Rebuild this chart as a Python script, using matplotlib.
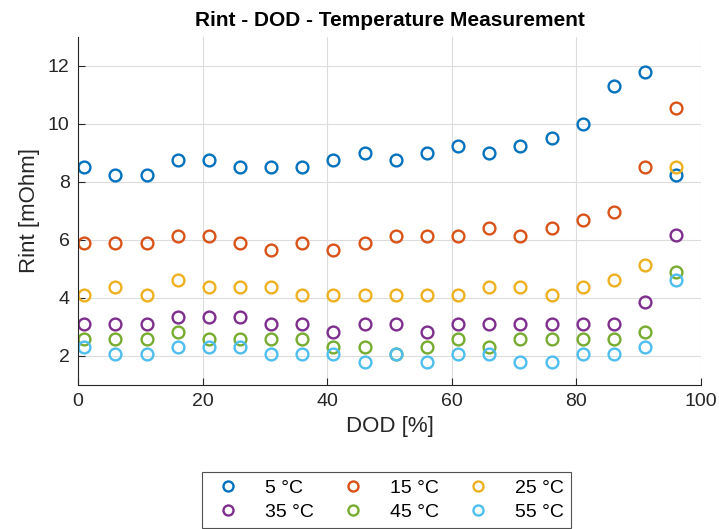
import numpy as np
import matplotlib
matplotlib.use("Agg")
from matplotlib import pyplot as plt

plt.rcParams['font.family'] = ['Liberation Sans', 'DejaVu Sans']

# depth of discharge steps and internal resistance per temperature
dod = [1, 6, 11, 16, 21, 26, 31, 36, 41, 46, 51, 56, 61, 66, 71, 76, 81, 86, 91, 96]
rint_5 = [8.5, 8.25, 8.25, 8.75, 8.75, 8.5, 8.5, 8.5, 8.75, 9.0, 8.75, 9.0, 9.25, 9.0, 9.25, 9.5, 10.0, 11.3, 11.8, 8.25]
rint_15 = [5.9, 5.9, 5.9, 6.15, 6.15, 5.9, 5.65, 5.9, 5.65, 5.9, 6.15, 6.15, 6.15, 6.4, 6.15, 6.4, 6.7, 6.95, 8.5, 10.55]
rint_25 = [4.1, 4.37, 4.1, 4.62, 4.37, 4.37, 4.37, 4.1, 4.1, 4.1, 4.1, 4.1, 4.1, 4.37, 4.37, 4.1, 4.37, 4.62, 5.15, 8.5]
rint_35 = [3.09, 3.09, 3.09, 3.34, 3.34, 3.34, 3.09, 3.09, 2.83, 3.09, 3.09, 2.83, 3.09, 3.09, 3.09, 3.09, 3.09, 3.09, 3.85, 6.18]
rint_45 = [2.58, 2.58, 2.58, 2.83, 2.58, 2.58, 2.58, 2.58, 2.32, 2.32, 2.07, 2.32, 2.58, 2.32, 2.58, 2.58, 2.58, 2.58, 2.83, 4.9]
rint_55 = [2.32, 2.07, 2.07, 2.32, 2.32, 2.32, 2.07, 2.07, 2.07, 1.8, 2.07, 1.8, 2.07, 2.07, 1.8, 1.8, 2.07, 2.07, 2.32, 4.63]

labels = ['5 °C', '15 °C', '25 °C', '35 °C', '45 °C', '55 °C']
colors = ['#0072BD', '#D95319', '#EDB120', '#7E2F8E', '#77AC30', '#4DBEEE']
series = [rint_5, rint_15, rint_25, rint_35, rint_45, rint_55]

fig = plt.figure(figsize=(7.19, 5.29), dpi=100)
ax = fig.add_axes([0.1085, 0.2722, 0.8665, 0.658])

handles = []
for vals, lab, col in zip(series, labels, colors):
    h, = ax.plot(dod, vals, linestyle='none', marker='o', markersize=8.5,
                 markerfacecolor='none', markeredgecolor=col, markeredgewidth=1.7, label=lab)
    handles.append(h)

ax.set_xlim(0, 100)
ax.set_ylim(1, 13)
ax.set_xticks([0, 20, 40, 60, 80, 100])
ax.set_yticks([2, 4, 6, 8, 10, 12])
ax.grid(True, color='#dcdcdc', linewidth=0.8)
ax.set_axisbelow(True)
for s in ['top', 'right']:
    ax.spines[s].set_visible(False)
for s in ['left', 'bottom']:
    ax.spines[s].set_color('#262626')
    ax.spines[s].set_linewidth(0.8)
ax.tick_params(direction='in', length=5, width=0.8, colors='#262626', labelsize=14, pad=6)

ax.set_xlabel('DOD [%]', fontsize=16, color='#262626', labelpad=4)
ax.set_ylabel('Rint [mOhm]', fontsize=16, color='#262626', labelpad=6)
ax.set_title('Rint - DOD - Temperature Measurement', fontsize=15, fontweight='bold', pad=8)

# legend fills row by row: 5/15/25 on top, 35/45/55 below
order = [0, 3, 1, 4, 2, 5]
leg = fig.legend([handles[i] for i in order], [labels[i] for i in order],
                 loc='upper center', bbox_to_anchor=(0.5375, 0.108), borderaxespad=0,
                 ncol=3, fontsize=14,
                 frameon=True, fancybox=False, edgecolor='#262626', markerscale=0.85,
                 handlelength=1.9, handletextpad=0.95, columnspacing=1.05,
                 borderpad=0.38, labelspacing=0.33)
leg.get_frame().set_linewidth(0.8)

fig.savefig('out.png', dpi=100)
